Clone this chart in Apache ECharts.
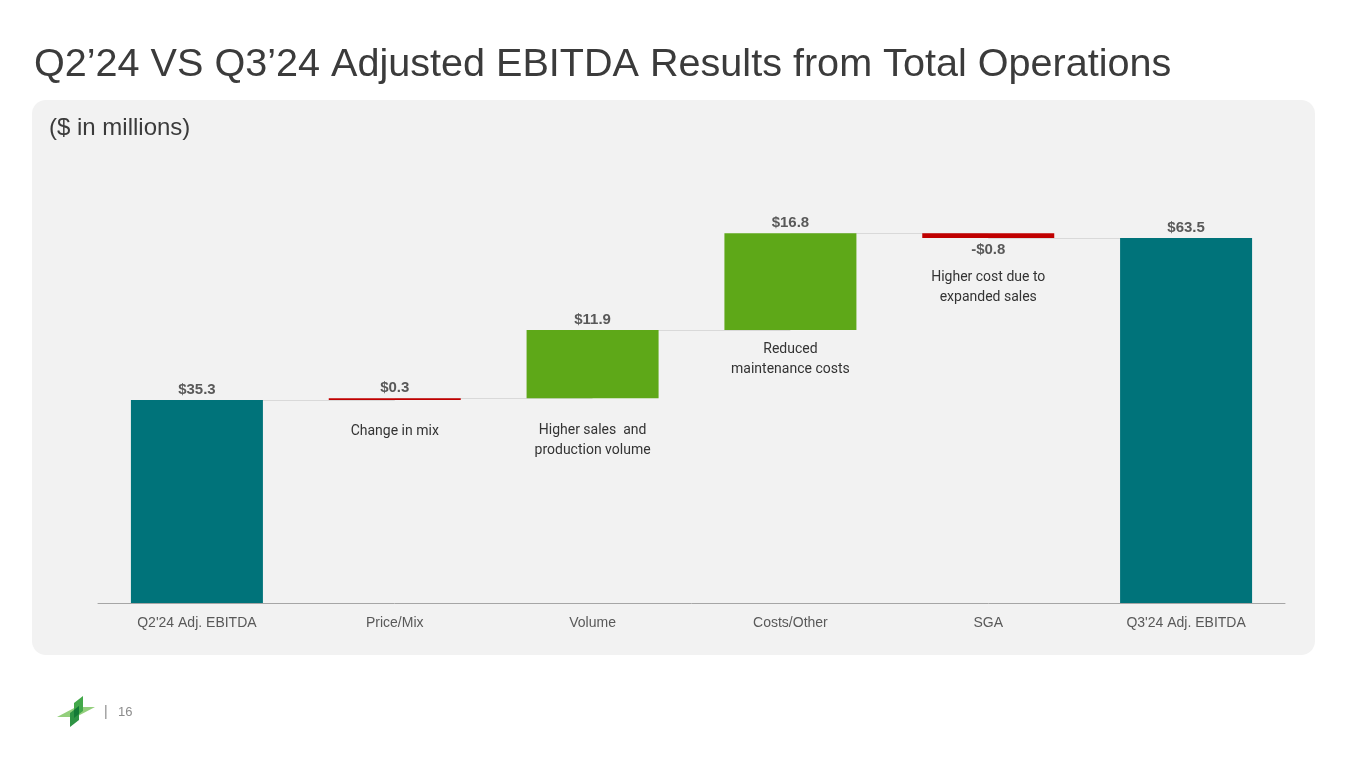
<!DOCTYPE html>
<html>
<head>
<meta charset="utf-8">
<script src="https://cdn.jsdelivr.net/npm/echarts@6/dist/echarts.min.js"></script>
<style>
html,body{margin:0;padding:0;background:#ffffff;}
#c{width:1365px;height:768px;}
</style>
</head>
<body>
<div id="c"></div>
<script>
// ---- data ----
const categories = ["Q2'24 Adj. EBITDA", "Price/Mix", "Volume", "Costs/Other", "SGA", "Q3'24 Adj. EBITDA"];
const values = [35.3, 0.3, 11.9, 16.8, -0.8, 63.5];
const isTotal = [true, false, false, false, false, true];
const notes = ["", "Change in mix", "Higher sales  and\nproduction volume", "Reduced\nmaintenance costs", "Higher cost due to\nexpanded sales", ""];

// ---- styles ----
const TEAL = '#00737A', GREEN = '#5EA818', RED = '#C00000';
const barColors = [TEAL, RED, GREEN, GREEN, RED, TEAL];
const noteDistance = [0, 21, 22, 10, 30, 0];

// ---- waterfall geometry from data ----
let running = 0;
const baseVals = [], heightVals = [], levels = [];
values.forEach((v, i) => {
  if (isTotal[i]) { baseVals.push(0); heightVals.push(v); running = v; }
  else if (v >= 0) { baseVals.push(running); heightVals.push(v); running += v; }
  else { baseVals.push(running + v); heightVals.push(-v); running += v; }
  levels.push(+running.toFixed(2));
});
const fmt = v => (v < 0 ? '-$' : '$') + Math.abs(v).toFixed(1);

const connectors = [];
for (let i = 0; i < categories.length - 1; i++) {
  connectors.push([{ coord: [i, levels[i]] }, { coord: [i + 1, levels[i]] }]);
}

const chart = echarts.init(document.getElementById('c'), null, { renderer: 'canvas' });
chart.setOption({
  animation: false,
  backgroundColor: '#ffffff',
  title: [{
    text: 'Q2’24 VS Q3’24 Adjusted EBITDA Results from Total Operations',
    left: 29, top: 40,
    textStyle: { fontFamily: "'Liberation Sans',Arial,sans-serif", fontSize: 39.6, fontWeight: 'normal', color: '#3b3b3b' }
  }, {
    text: '($ in millions)',
    left: 44, top: 111,
    textStyle: { fontFamily: "'Liberation Sans',Arial,sans-serif", fontSize: 24, fontWeight: 'normal', color: '#3b3b3b' }
  }],
  graphic: [
    { type: 'rect', z: -10, shape: { x: 32, y: 100, width: 1283, height: 555, r: 14 }, style: { fill: '#f2f2f2' }, silent: true },
    { type: 'polygon', shape: { points: [[57,717],[76,707],[76,717]] }, style: { fill: '#93cf7c' } },
    { type: 'polygon', shape: { points: [[95,707],[76,717],[76,707]] }, style: { fill: '#93cf7c' } },
    { type: 'polygon', shape: { points: [[74,703],[83,696],[83,711],[74,718]] }, style: { fill: '#43a84a' } },
    { type: 'polygon', shape: { points: [[70,713],[79,706],[79,720],[70,727]] }, style: { fill: '#2e9444' } },
    { type: 'polygon', shape: { points: [[74,710],[79,706],[79,714],[74,718]] }, style: { fill: '#137a36' } },
    { type: 'text', style: { text: '|', x: 104, y: 705, fill: '#8c8c8c', font: '14px Liberation Sans' } },
    { type: 'text', style: { text: '16', x: 118, y: 706, fill: '#8c8c8c', font: '13px Liberation Sans' } }
  ],
  grid: { left: 98, right: 80, top: 143, bottom: 165 },
  xAxis: {
    type: 'category',
    data: categories,
    axisLine: { lineStyle: { color: '#a6a6a6', width: 1 } },
    axisTick: { show: false },
    axisLabel: { color: '#595959', fontSize: 14, fontFamily: 'Liberation Sans', margin: 13 }
  },
  yAxis: { type: 'value', min: 0, max: 80, show: false, splitLine: { show: false } },
  series: [{
    type: 'bar',
    stack: 'wf',
    z: 1,
    barWidth: 132,
    data: baseVals.map((b, i) => ({
      value: b,
      label: {
        show: notes[i] !== '',
        position: 'insideTop',
        distance: noteDistance[i],
        formatter: notes[i],
        color: '#333333',
        fontFamily: 'Roboto',
        fontSize: 14,
        lineHeight: 20
      }
    })),
    itemStyle: { color: 'rgba(0,0,0,0)' },
    emphasis: { disabled: true },
    markLine: {
      z: 0,
      silent: true,
      symbol: 'none',
      label: { show: false },
      lineStyle: { color: '#d9d9d9', width: 1, type: 'solid' },
      data: connectors
    }
  }, {
    type: 'bar',
    stack: 'wf',
    z: 3,
    barWidth: 132,
    data: heightVals.map((h, i) => ({
      value: h,
      itemStyle: { color: barColors[i] },
      label: {
        show: true,
        position: values[i] < 0 ? 'bottom' : 'top',
        distance: values[i] < 0 ? 4 : 3,
        formatter: fmt(values[i]),
        color: '#595959',
        fontWeight: 'bold',
        fontFamily: "'Liberation Sans',Arial,sans-serif",
        fontSize: 15
      }
    })),
    emphasis: { disabled: true }
  }]
});
</script>
</body>
</html>
